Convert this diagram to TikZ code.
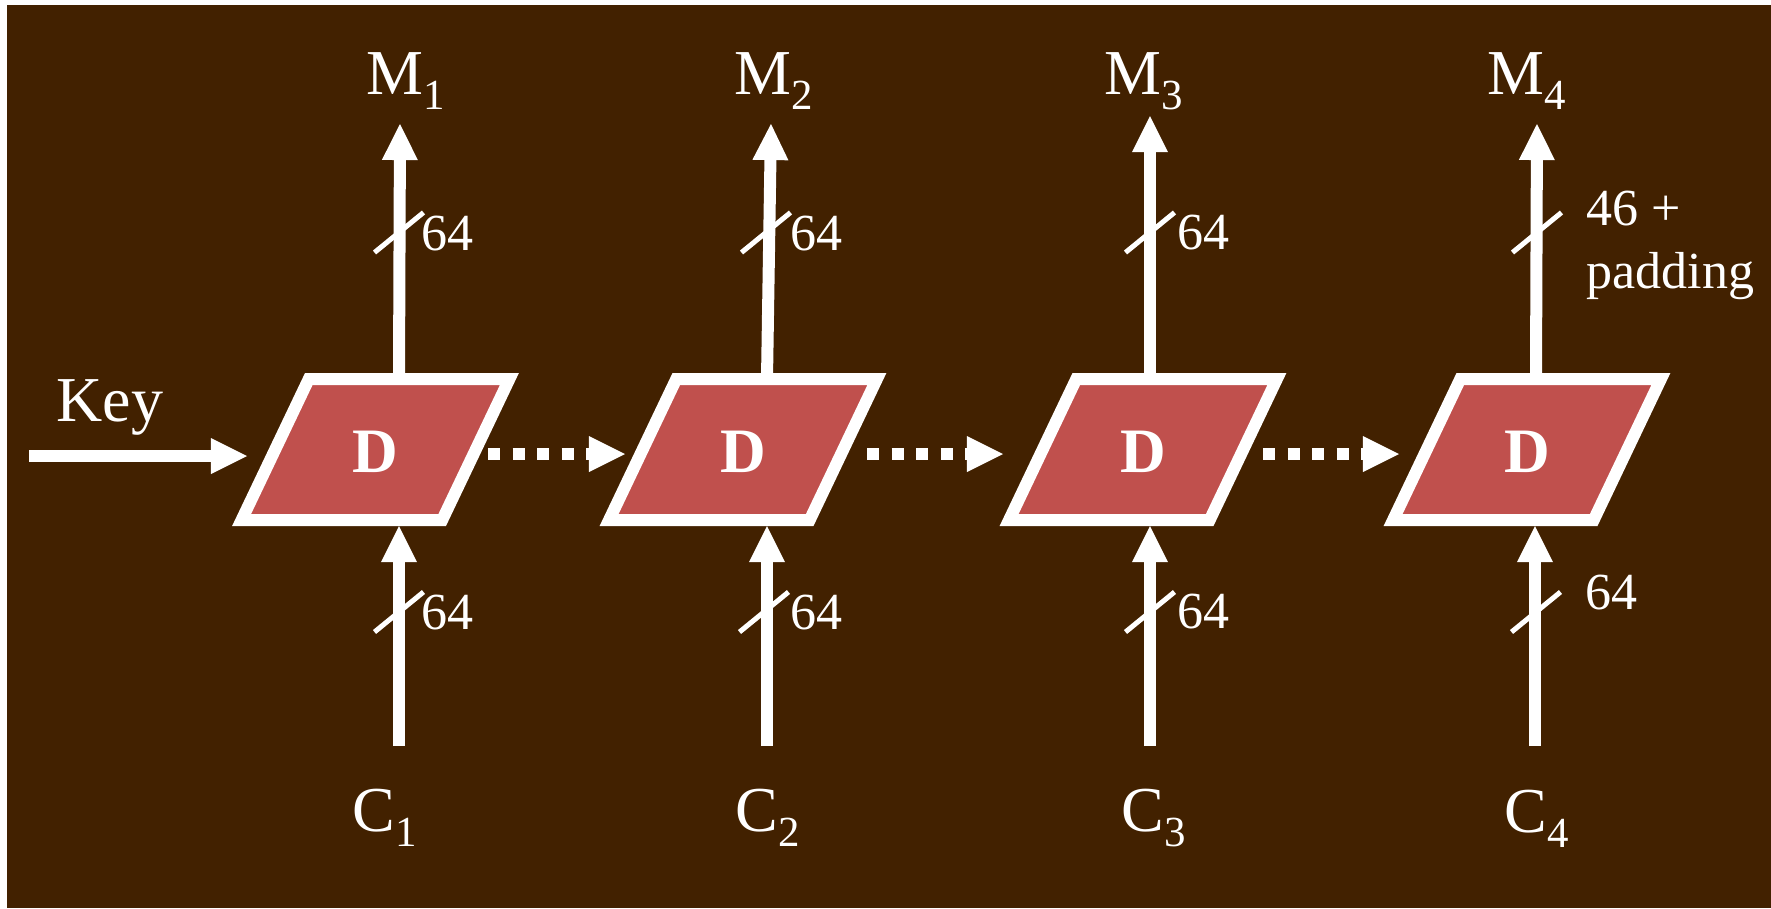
\documentclass[tikz,border=0pt]{standalone}
\usepackage{fontspec}
\setmainfont{Liberation Serif}
\usetikzlibrary{arrows.meta}
\definecolor{SlideBrown}{HTML}{422100}
\definecolor{BlockRed}{HTML}{C0504D}
\newcommand\lowsub[1]{\raisebox{-0.15cm}{\fontsize{12.2pt}{14pt}\selectfont #1}}

\begin{document}
\begin{tikzpicture}[x=0.01cm,y=-0.01cm,
  bus/.style={white,line width=0.12cm,-{Triangle[length=0.36cm,width=0.36cm,line width=0pt]}},
  chain/.style={bus,dash pattern=on 0.12cm off 0.125cm},
  slash/.style={white,line width=0.05cm},
  block/.style={draw=white,fill=BlockRed,line width=0.12cm,line join=miter},
  lbl/.style={white,inner sep=0pt,anchor=base west,font=\fontsize{18.2pt}{22pt}\selectfont},
  bits/.style={lbl,font=\fontsize{14.8pt}{17.9pt}\selectfont},
  dname/.style={white,inner sep=0pt,font=\fontsize{18pt}{22pt}\selectfont\bfseries}]
  \useasboundingbox (0,0) rectangle (1771,908);
  \fill[white] (0,0) rectangle (1771,908);\fill[SlideBrown] (7,5) rectangle (1771,908);
  % decryption blocks
  \draw[block] (308.8,379)--(509.4,379)--(442.2,520)--(241.6,520)--cycle;\node[dname] (d1) at (375.5,452) {D};
  \draw[block] (676.3,379)--(876.9,379)--(809.7,520)--(609.1,520)--cycle;\node[dname] (d2) at (743,452) {D};
  \draw[block] (1076.3,379)--(1276.9,379)--(1209.7,520)--(1009.1,520)--cycle;\node[dname] (d3) at (1143,452) {D};
  \draw[block] (1460.3,379)--(1660.9,379)--(1593.7,520)--(1393.1,520)--cycle;\node[dname] (d4) at (1527,452) {D};
  % ports
  \coordinate (b1top) at (399,379);\coordinate (b1bot) at (399,526);\coordinate (b1in) at (247,456);\coordinate (b1out) at (488,454);
  \coordinate (b2top) at (767,379);\coordinate (b2bot) at (767,526);\coordinate (b2in) at (625,454);\coordinate (b2out) at (867,454);
  \coordinate (b3top) at (1150,379);\coordinate (b3bot) at (1150,526);\coordinate (b3in) at (1003,454);\coordinate (b3out) at (1263,454);
  \coordinate (b4top) at (1536,379);\coordinate (b4bot) at (1535,526);\coordinate (b4in) at (1399,454);
  \coordinate (m1tip) at (400,124);\coordinate (m2tip) at (771,124);\coordinate (m3tip) at (1150,116);\coordinate (m4tip) at (1537,124);
  \coordinate (c1foot) at (399,746);\coordinate (c2foot) at (767,746);\coordinate (c3foot) at (1150,746);\coordinate (c4foot) at (1535,746);
  \coordinate (keyfoot) at (29,456);
  % labels
  \node[lbl] (m1) at (366,94) {M\lowsub{1}};\node[lbl] (m2) at (734,94) {M\lowsub{2}};
  \node[lbl] (m3) at (1104,94) {M\lowsub{3}};\node[lbl] (m4) at (1487,94) {M\lowsub{4}};
  \node[lbl] (c1) at (352,831) {C\lowsub{1}};\node[lbl] (c2) at (735,831) {C\lowsub{2}};
  \node[lbl] (c3) at (1121,831) {C\lowsub{3}};\node[lbl] (c4) at (1504,832) {C\lowsub{4}};
  \node[lbl] (key) at (56,421) {Key};
  \node[bits] (w1) at (421,250) {64};\node[bits] (w2) at (790,250) {64};\node[bits] (w3) at (1177,249) {64};
  \node[bits,align=left] (w4) at (1586,288) {46 +\\padding};
  \node[bits] (v1) at (421,629) {64};\node[bits] (v2) at (790,629) {64};\node[bits] (v3) at (1177,628) {64};\node[bits] (v4) at (1585,609) {64};
  % connectors
  \draw[bus] (keyfoot) -- (b1in);
  \draw[chain] (b1out) -- (b2in);\draw[chain] (b2out) -- (b3in);\draw[chain] (b3out) -- (b4in);
  \draw[bus] (b1top) -- (m1tip);\draw[bus] (b2top) -- (m2tip);\draw[bus] (b3top) -- (m3tip);\draw[bus] (b4top) -- (m4tip);
  \draw[bus] (c1foot) -- (b1bot);\draw[bus] (c2foot) -- (b2bot);\draw[bus] (c3foot) -- (b3bot);\draw[bus] (c4foot) -- (b4bot);
  \draw[slash] (374.5,252.5)--++(49,-40) (741.5,252.5)--++(49,-40) (1125.5,252.5)--++(49,-40) (1512.5,252.5)--++(49,-40);
  \draw[slash] (374.5,632)--++(49,-40) (739.5,632)--++(49,-40) (1125.5,632)--++(49,-40) (1511.5,632)--++(49,-40);
\end{tikzpicture}
\end{document}
